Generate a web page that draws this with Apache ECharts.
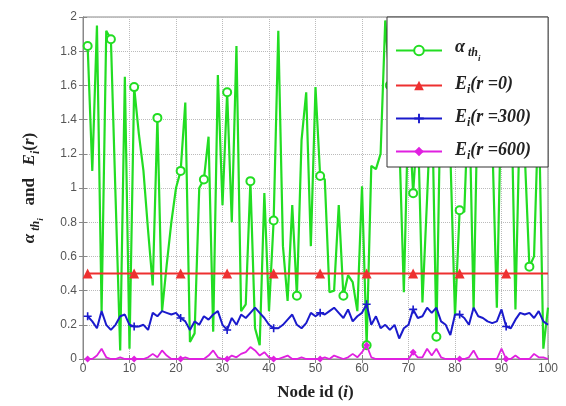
<!DOCTYPE html>
<html>
<head>
<meta charset="utf-8">
<script src="https://cdn.jsdelivr.net/npm/echarts@6/dist/echarts.min.js"></script>
<style>
html, body { margin: 0; padding: 0; background: #fff; }
#chart { width: 566px; height: 406px; }
</style>
</head>
<body>
<div id="chart"></div>
<script>
// node ids 1..100
var nodeIds = [];
for (var n = 1; n <= 100; n++) nodeIds.push(n);

var alphaTh = [
	1.83, 1.10, 1.95, 0.28, 1.92, 1.87, 0.95, 0.05, 1.65, 0.06,
	1.59, 1.32, 1.10, 0.75, 0.43, 1.41, 0.28, 0.55, 0.80, 1.00,
	1.10, 1.50, 0.10, 0.15, 1.00, 1.05, 1.30, 0.16, 1.66, 0.90,
	1.56, 0.80, 1.83, 0.28, 0.32, 1.04, 0.18, 0.08, 0.97, 0.28,
	0.81, 1.92, 0.66, 0.34, 0.90, 0.37, 1.28, 1.56, 0.66, 1.59,
	1.07, 1.05, 0.39, 0.40, 0.90, 0.37, 0.49, 0.45, 0.28, 1.01,
	0.08, 1.13, 1.11, 1.20, 1.98, 1.60, 1.80, 1.30, 0.39, 1.50,
	0.97, 1.40, 0.33, 0.94, 1.60, 0.13, 1.70, 1.40, 1.20, 0.25,
	0.87, 0.86, 1.60, 0.29, 1.70, 1.50, 1.40, 1.30, 0.30, 1.60,
	1.30, 1.70, 0.29, 1.50, 1.20, 0.54, 0.60, 1.50, 0.06, 0.30
];

var energyR0 = [];
for (var k = 0; k < 100; k++) energyR0.push(0.5);

var energyR300 = [
	0.25, 0.22, 0.18, 0.28, 0.20, 0.17, 0.20, 0.25, 0.26, 0.20,
	0.19, 0.19, 0.20, 0.17, 0.27, 0.25, 0.28, 0.27, 0.26, 0.27,
	0.24, 0.22, 0.17, 0.22, 0.20, 0.25, 0.23, 0.26, 0.28, 0.20,
	0.17, 0.24, 0.20, 0.26, 0.24, 0.27, 0.30, 0.27, 0.24, 0.20,
	0.18, 0.18, 0.20, 0.23, 0.26, 0.20, 0.18, 0.21, 0.27, 0.25,
	0.27, 0.26, 0.28, 0.30, 0.27, 0.24, 0.29, 0.22, 0.25, 0.27,
	0.32, 0.20, 0.25, 0.18, 0.20, 0.17, 0.20, 0.12, 0.18, 0.20,
	0.29, 0.24, 0.25, 0.30, 0.27, 0.30, 0.22, 0.20, 0.14, 0.26,
	0.26, 0.24, 0.20, 0.30, 0.25, 0.24, 0.22, 0.21, 0.22, 0.29,
	0.19, 0.18, 0.23, 0.27, 0.26, 0.27, 0.24, 0.28, 0.22, 0.20
];

var energyR600 = [
	0.00, 0.00, 0.02, 0.06, 0.01, 0.00, 0.00, 0.01, 0.00, 0.00,
	0.00, 0.00, 0.00, 0.01, 0.03, 0.01, 0.05, 0.02, 0.00, 0.00,
	0.00, 0.01, 0.00, 0.00, 0.00, 0.00, 0.02, 0.05, 0.01, 0.00,
	0.00, 0.02, 0.01, 0.03, 0.04, 0.07, 0.05, 0.02, 0.04, 0.01,
	0.00, 0.00, 0.01, 0.02, 0.00, 0.00, 0.01, 0.00, 0.00, 0.00,
	0.00, 0.01, 0.00, 0.02, 0.01, 0.00, 0.01, 0.03, 0.01, 0.04,
	0.08, 0.01, 0.00, 0.00, 0.00, 0.00, 0.00, 0.00, 0.00, 0.00,
	0.04, 0.01, 0.01, 0.06, 0.02, 0.06, 0.01, 0.00, 0.00, 0.00,
	0.00, 0.00, 0.01, 0.05, 0.00, 0.00, 0.00, 0.00, 0.00, 0.06,
	0.00, 0.00, 0.02, 0.00, 0.00, 0.00, 0.03, 0.01, 0.01, 0.00
];

var xTicks = [0, 10, 20, 30, 40, 50, 60, 70, 80, 90, 100];
var yTicks = [0, 0.2, 0.4, 0.6, 0.8, 1, 1.2, 1.4, 1.6, 1.8, 2];

var seriesNames = ['alpha', 'r0', 'r300', 'r600'];

var plusPath = 'path://M4,0 L6,0 L6,4 L10,4 L10,6 L6,6 L6,10 L4,10 L4,6 L0,6 L0,4 L4,4 Z';

function buildData(values, every) {
	var out = [];
	for (var i = 0; i < values.length; i++) {
		var item = { value: [nodeIds[i], values[i]] };
		if (i % every !== 0) item.symbol = 'none';
		out.push(item);
	}
	return out;
}

var serif = 'Liberation Serif';
var richLegend = {
	f: { fontFamily: serif, fontStyle: 'italic', fontWeight: 'bold', fontSize: 18, color: '#222', verticalAlign: 'top', padding: [0, 0, 0, 8] },
	m: { fontFamily: serif, fontStyle: 'italic', fontWeight: 'bold', fontSize: 18, color: '#222', verticalAlign: 'top' },
	s: { fontFamily: serif, fontStyle: 'italic', fontWeight: 'bold', fontSize: 12, color: '#222', verticalAlign: 'top', padding: [9, 0, 0, 0] },
	ss: { fontFamily: serif, fontStyle: 'italic', fontWeight: 'bold', fontSize: 9, color: '#222', verticalAlign: 'top', padding: [16, 0, 0, 0] }
};

var legendText = {
	alpha: '{f|α}{s| th}{ss|i}',
	r0: '{f|E}{s|i}{m|(r =0)}',
	r300: '{f|E}{s|i}{m|(r =300)}',
	r600: '{f|E}{s|i}{m|(r =600)}'
};

var myChart = echarts.init(document.getElementById('chart'));

var axisLabelStyle = { color: '#555', fontSize: 12, fontFamily: 'Liberation Sans' };

var option = {
	animation: false,
	grid: {
		left: 83,
		right: 18,
		top: 17,
		bottom: 43,
		show: true,
		borderColor: '#888',
		borderWidth: 1,
		backgroundColor: '#fff'
	},
	legend: {
		orient: 'vertical',
		left: 387,
		top: 17,
		data: seriesNames,
		itemWidth: 46,
		itemHeight: 12,
		itemGap: 12,
		padding: [21, 17, 5, 8],
		backgroundColor: '#fff',
		borderColor: '#333',
		borderWidth: 1,
		formatter: function (name) { return legendText[name]; },
		textStyle: { rich: richLegend }
	},
	xAxis: [{
		type: 'value',
		min: 0,
		max: 100,
		interval: 10,
		name: '{b|Node id (}{i|i}{b|)}',
		nameLocation: 'middle',
		nameGap: 25,
		nameTextStyle: {
			rich: {
				b: { fontFamily: serif, fontWeight: 'bold', fontSize: 17, color: '#222' },
				i: { fontFamily: serif, fontWeight: 'bold', fontStyle: 'italic', fontSize: 17, color: '#222' }
			}
		},
		axisLine: { show: true, lineStyle: { color: '#888' } },
		axisTick: { inside: true, length: 4, lineStyle: { color: '#888' } },
		axisLabel: Object.assign({ margin: 4 }, axisLabelStyle),
		splitLine: { show: true, lineStyle: { color: '#bbb', type: 'dotted' } }
	}, {
		type: 'value',
		position: 'top',
		min: 0,
		max: 100,
		interval: 10,
		axisLine: { show: true, lineStyle: { color: '#888' } },
		axisTick: { inside: true, length: 4, lineStyle: { color: '#888' } },
		axisLabel: { show: false },
		splitLine: { show: false }
	}],
	yAxis: [{
		type: 'value',
		min: 0,
		max: 2,
		interval: 0.2,
		name: '{g|α}{s| th}{ss|i}{b|   and   }{g|E}{s|i}{b|(}{r|r}{b|)}',
		nameLocation: 'middle',
		nameRotate: 90,
		nameGap: 38,
		nameTextStyle: {
			rich: {
				g: { fontFamily: serif, fontWeight: 'bold', fontStyle: 'italic', fontSize: 17, color: '#222', verticalAlign: 'top' },
				s: { fontFamily: serif, fontWeight: 'bold', fontStyle: 'italic', fontSize: 12, color: '#222', verticalAlign: 'top', padding: [9, 0, 0, 0] },
				ss: { fontFamily: serif, fontWeight: 'bold', fontStyle: 'italic', fontSize: 9, color: '#222', verticalAlign: 'top', padding: [15, 0, 0, 0] },
				b: { fontFamily: serif, fontWeight: 'bold', fontSize: 17, color: '#222', verticalAlign: 'top' },
				r: { fontFamily: serif, fontWeight: 'bold', fontStyle: 'italic', fontSize: 17, color: '#222', verticalAlign: 'top' }
			}
		},
		axisLine: { show: true, lineStyle: { color: '#888' } },
		axisTick: { inside: true, length: 4, lineStyle: { color: '#888' } },
		axisLabel: Object.assign({ margin: 6, formatter: function (v) { return String(Math.round(v * 10) / 10); } }, axisLabelStyle),
		splitLine: { show: true, lineStyle: { color: '#bbb', type: 'dotted' } }
	}, {
		type: 'value',
		position: 'right',
		min: 0,
		max: 2,
		interval: 0.2,
		axisLine: { show: true, lineStyle: { color: '#888' } },
		axisTick: { inside: true, length: 4, lineStyle: { color: '#888' } },
		axisLabel: { show: false },
		splitLine: { show: false }
	}],
	series: [{
		name: 'alpha',
		type: 'line',
		data: buildData(alphaTh, 5),
		symbol: 'circle',
		symbolSize: 8,
		itemStyle: { color: '#ffffff', borderColor: '#22dd22', borderWidth: 2 },
		lineStyle: { color: '#22dd22', width: 2.2 },
		color: '#22dd22',
		z: 2
	}, {
		name: 'r0',
		type: 'line',
		data: buildData(energyR0, 10),
		symbol: 'triangle',
		symbolSize: 10,
		itemStyle: { color: '#ee3030' },
		lineStyle: { color: '#ee3030', width: 2.2 },
		color: '#ee3030',
		z: 3
	}, {
		name: 'r300',
		type: 'line',
		data: buildData(energyR300, 10),
		symbol: plusPath,
		symbolSize: 8,
		itemStyle: { color: '#1a1acc' },
		lineStyle: { color: '#1a1acc', width: 2 },
		color: '#1a1acc',
		z: 3
	}, {
		name: 'r600',
		type: 'line',
		data: buildData(energyR600, 10),
		symbol: 'diamond',
		symbolSize: 7,
		itemStyle: { color: '#e020e0' },
		lineStyle: { color: '#e020e0', width: 1.8 },
		color: '#e020e0',
		z: 3
	}]
};

myChart.setOption(option);
</script>
</body>
</html>
